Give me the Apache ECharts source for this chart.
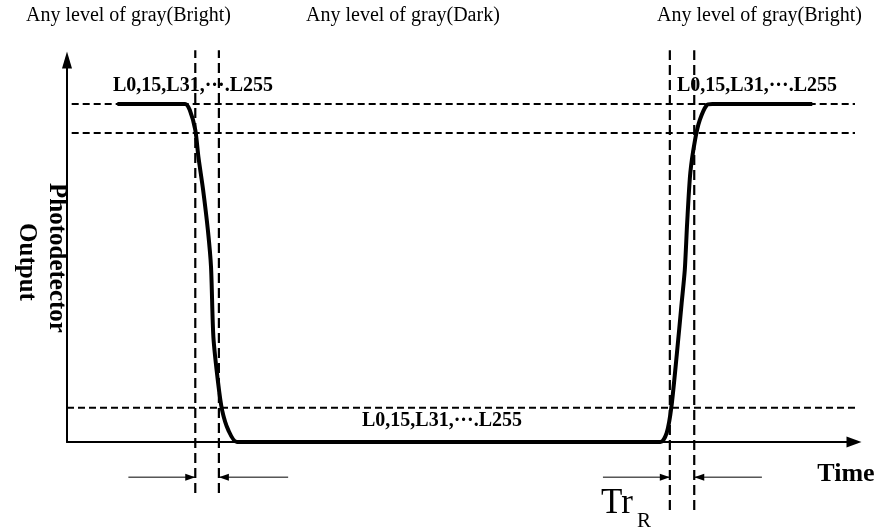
<!DOCTYPE html>
<html>
<head>
<meta charset="utf-8">
<script src="https://cdn.jsdelivr.net/npm/echarts@6/dist/echarts.min.js"></script>
<style>
html, body { margin: 0; padding: 0; background: #fff; }
#chart { width: 879px; height: 529px; }
</style>
</head>
<body>
<div id="chart"></div>
<script>
// time runs 0..100, output in % of the bright level
const fallEdge = [[6.4, 100], [15.0, 100], [15.6, 98.2], [16.3, 92.3], [16.7, 84.3], [17.3, 74.5], [17.9, 62.7], [18.3, 51.8], [18.6, 31.1], [19.2, 17.5], [19.7, 9.5], [20.5, 3.5], [21.6, 0]]
const riseEdge = [[75.4, 0], [76.2, 2.7], [76.8, 10.4], [77.5, 26.3], [78.1, 41.1], [78.5, 50.9], [78.8, 64.8], [79.2, 79.6], [79.8, 89.3], [80.4, 95.2], [81.3, 99.7], [82.0, 100], [94.7, 100]]

// dashed reference levels: 100%, 90% and 10%
const levelValues = [100, 91.4, 10.1]
const levelStarts = [-2.2, -2.2, 0]
const levelEnd = 101

// dashed time markers and their extents
const markTimes = [16.3, 19.3, 76.6, 79.7]
const markBottoms = [-15.1, -15.1, -20.1, -20.1]
const markTop = 115.9

// measuring arrows: [from, to]
const arrowLevel = -10.4
const arrowPairs = [[7.8, 16.3], [28.1, 19.3], [68.1, 76.6], [88.3, 79.7]]

const levelLabel = 'L0,15,L31,···.L255'

const chart = echarts.init(document.getElementById('chart'))

const plain = {
  type: 'line',
  symbol: 'none',
  clip: false,
  silent: true,
  animation: false,
  emphasis: { disabled: true }
}

const series = []

levelValues.forEach((v, i) => {
  series.push({
    ...plain,
    data: [[levelStarts[i], v], [levelEnd, v]],
    lineStyle: { color: '#000', width: 2, type: [7, 4] }
  })
})

markTimes.forEach((t, i) => {
  series.push({
    ...plain,
    data: [[t, markBottoms[i]], [t, markTop]],
    lineStyle: { color: '#000', width: 2.2, type: [10, 5] }
  })
})

arrowPairs.forEach(([from, to]) => {
  const right = to > from
  series.push({
    ...plain,
    data: [
      { value: [from, arrowLevel], symbol: 'none' },
      {
        value: [to, arrowLevel],
        symbol: 'triangle',
        symbolSize: [7, 10],
        symbolRotate: right ? -90 : 90,
        symbolOffset: [right ? -5 : 5, 0]
      }
    ],
    itemStyle: { color: '#000', borderWidth: 0 },
    lineStyle: { color: '#000', width: 1 }
  })
})

series.push({
  ...plain,
  data: fallEdge.concat(riseEdge),
  smooth: 0.25,
  lineStyle: { color: '#000', width: 4, join: 'round' },
  z: 5
})

const serif = '"Liberation Serif", "Times New Roman", serif'
const txt = (text, x, y, font, align, rotation) => ({
  type: 'text',
  x: x,
  y: y,
  rotation: rotation || 0,
  silent: true,
  style: {
    text: text,
    fill: '#000',
    font: font + ' ' + serif,
    textAlign: align,
    align: align,
    textVerticalAlign: 'middle',
    verticalAlign: 'middle'
  }
})

const option = {
  animation: false,
  grid: { left: 67, right: 25, top: 60, bottom: 87 },
  xAxis: {
    type: 'value',
    min: 0,
    max: 100,
    axisLine: { symbol: ['none', 'triangle'], symbolSize: [11, 15], lineStyle: { color: '#000', width: 2 } },
    axisTick: { show: false },
    axisLabel: { show: false },
    splitLine: { show: false }
  },
  yAxis: {
    type: 'value',
    min: 0,
    max: 113,
    axisLine: { symbol: ['none', 'triangle'], symbolSize: [10, 17], lineStyle: { color: '#000', width: 2 } },
    axisTick: { show: false },
    axisLabel: { show: false },
    splitLine: { show: false }
  },
  series: series,
  graphic: [
    txt('Any level of gray(Bright)', 128.5, 16, '20px', 'center'),
    txt('Any level of gray(Dark)', 306, 16, '20px', 'left'),
    txt('Any level of gray(Bright)', 759.5, 16, '20px', 'center'),
    txt(levelLabel, 113, 86, 'bold 20px', 'left'),
    txt(levelLabel, 677, 86, 'bold 20px', 'left'),
    txt(levelLabel, 362, 421, 'bold 20px', 'left'),
    txt('Photodetector', 56, 258, 'bold 25px', 'center', -Math.PI / 2),
    txt('Output', 26, 262, 'bold 25px', 'center', -Math.PI / 2),
    txt('Time', 846, 474, 'bold 26px', 'center'),
    txt('Tr', 601, 504, '35px', 'left'),
    txt('R', 637, 521, '21px', 'left')
  ]
}

chart.setOption(option)
</script>
</body>
</html>
